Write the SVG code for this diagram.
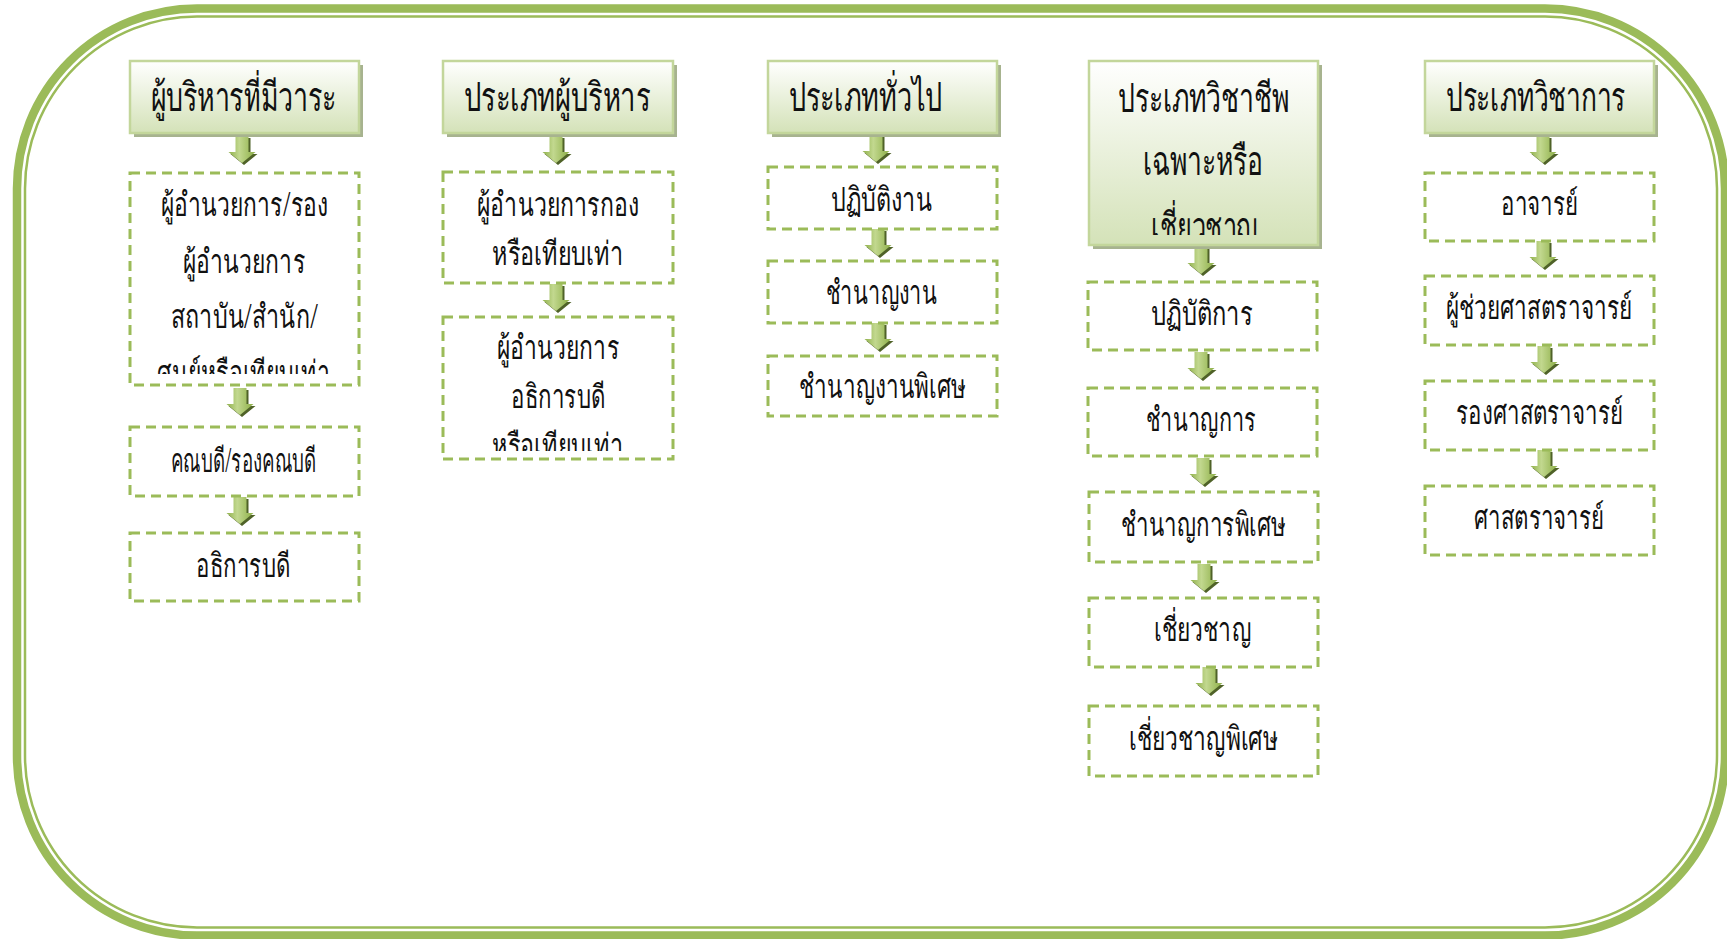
<svg xmlns="http://www.w3.org/2000/svg" xmlns:xlink="http://www.w3.org/1999/xlink" width="1727" height="939" viewBox="0 0 1727 939">
<style>
.frame{fill:none;stroke:#9bbb59}
.shd{fill:#a7b38f}
.hdr{fill:url(#hg);stroke:#c3d69b;stroke-width:2.5}
.box{fill:#ffffff;stroke:#9bbb59;stroke-width:3;stroke-dasharray:10 6}
.t{font-family:"Noto Sans","DejaVu Sans",sans-serif;font-size:33px;font-weight:300;fill:#111111}
.h{font-family:"Noto Sans","DejaVu Sans",sans-serif;font-size:40px;font-weight:300;fill:#111111}
</style>
<defs>
<linearGradient id="hg" x1="0" y1="0" x2="0" y2="1">
<stop offset="0" stop-color="#ffffff"/>
<stop offset="1" stop-color="#d4e2b8"/>
</linearGradient>
<linearGradient id="ag" x1="0" y1="0" x2="1" y2="0">
<stop offset="0" stop-color="#8fb04a"/>
<stop offset="0.4" stop-color="#c2d88f"/>
<stop offset="1" stop-color="#8cae46"/>
</linearGradient>
<g id="arr">
<path d="M-4.5,2 H8.5 V18 H15.5 L2,29 L-11.5,18 H-4.5 Z" fill="#4f6228"/>
<path d="M-6.5,0 H6.5 V16 H13.5 L0,27 L-13.5,16 H-6.5 Z" fill="url(#ag)"/>
</g>
<clipPath id="c1"><rect x="130" y="173" width="229" height="201"/></clipPath>
<clipPath id="c2"><rect x="443" y="317" width="230" height="134"/></clipPath>
<clipPath id="c3"><rect x="1089" y="61" width="229" height="174"/></clipPath>
</defs>
<rect width="1727" height="939" fill="#ffffff"/>
<g id="frame">
<rect class="frame" x="17" y="8.5" width="1708" height="927" rx="180" ry="180" stroke-width="8.5"/>
<rect class="frame" x="25" y="16.5" width="1692" height="911" rx="172" ry="172" stroke-width="2.5"/>
</g>
<g id="connectors">
<use href="#arr" x="242" y="136"/>
<use href="#arr" x="240" y="388"/>
<use href="#arr" x="240" y="497"/>
<use href="#arr" x="556" y="136"/>
<use href="#arr" x="556" y="284"/>
<use href="#arr" x="876" y="135"/>
<use href="#arr" x="878" y="229"/>
<use href="#arr" x="878" y="323"/>
<use href="#arr" x="1201" y="247"/>
<use href="#arr" x="1201" y="352"/>
<use href="#arr" x="1203" y="458"/>
<use href="#arr" x="1204" y="564"/>
<use href="#arr" x="1209" y="667"/>
<use href="#arr" x="1543" y="136"/>
<use href="#arr" x="1543" y="241"/>
<use href="#arr" x="1544" y="346"/>
<use href="#arr" x="1544" y="450"/>
</g>
<g id="h1">
<rect class="shd" x="134" y="65" width="229" height="72"/>
<rect class="hdr" x="130" y="61" width="229" height="72"/>
<text class="h" x="151" y="111" textLength="185" lengthAdjust="spacingAndGlyphs">ผู้บริหารที่มีวาระ</text>
</g>
<g id="n1a">
<rect class="box" x="130" y="173" width="229" height="212"/>
<g clip-path="url(#c1)">
<text class="t" x="161" y="216" textLength="167" lengthAdjust="spacingAndGlyphs">ผู้อำนวยการ/รอง</text>
<text class="t" x="183" y="273" textLength="122" lengthAdjust="spacingAndGlyphs">ผู้อำนวยการ</text>
<text class="t" x="171" y="328" textLength="147" lengthAdjust="spacingAndGlyphs">สถาบัน/สำนัก/</text>
<text class="t" x="157" y="384" textLength="173" lengthAdjust="spacingAndGlyphs">ศูนย์หรือเทียบเท่า</text>
</g>
</g>
<g id="n1b">
<rect class="box" x="130" y="427" width="229" height="69"/>
<text class="t" x="171" y="472" textLength="145" lengthAdjust="spacingAndGlyphs">คณบดี/รองคณบดี</text>
</g>
<g id="n1c">
<rect class="box" x="130" y="533" width="229" height="68"/>
<text class="t" x="196" y="577" textLength="94" lengthAdjust="spacingAndGlyphs">อธิการบดี</text>
</g>
<g id="h2">
<rect class="shd" x="447" y="65" width="230" height="72"/>
<rect class="hdr" x="443" y="61" width="230" height="72"/>
<text class="h" x="464" y="111" textLength="186" lengthAdjust="spacingAndGlyphs">ประเภทผู้บริหาร</text>
</g>
<g id="n2a">
<rect class="box" x="443" y="172" width="230" height="111"/>
<text class="t" x="477" y="216" textLength="162" lengthAdjust="spacingAndGlyphs">ผู้อำนวยการกอง</text>
<text class="t" x="492" y="265" textLength="131" lengthAdjust="spacingAndGlyphs">หรือเทียบเท่า</text>
</g>
<g id="n2b">
<rect class="box" x="443" y="317" width="230" height="142"/>
<g clip-path="url(#c2)">
<text class="t" x="497" y="359" textLength="122" lengthAdjust="spacingAndGlyphs">ผู้อำนวยการ</text>
<text class="t" x="511" y="408" textLength="94" lengthAdjust="spacingAndGlyphs">อธิการบดี</text>
<text class="t" x="492" y="457" textLength="131" lengthAdjust="spacingAndGlyphs">หรือเทียบเท่า</text>
</g>
</g>
<g id="h3">
<rect class="shd" x="772" y="65" width="229" height="72"/>
<rect class="hdr" x="768" y="61" width="229" height="72"/>
<text class="h" x="789" y="111" textLength="153" lengthAdjust="spacingAndGlyphs">ประเภททั่วไป</text>
</g>
<g id="n3a">
<rect class="box" x="768" y="167" width="229" height="62"/>
<text class="t" x="831" y="211" textLength="101" lengthAdjust="spacingAndGlyphs">ปฏิบัติงาน</text>
</g>
<g id="n3b">
<rect class="box" x="768" y="261" width="229" height="62"/>
<text class="t" x="826" y="304" textLength="111" lengthAdjust="spacingAndGlyphs">ชำนาญงาน</text>
</g>
<g id="n3c">
<rect class="box" x="768" y="356" width="229" height="60"/>
<text class="t" x="799" y="398" textLength="167" lengthAdjust="spacingAndGlyphs">ชำนาญงานพิเศษ</text>
</g>
<g id="h4">
<rect class="shd" x="1093" y="65" width="229" height="184"/>
<rect class="hdr" x="1089" y="61" width="229" height="184"/>
<g clip-path="url(#c3)">
<text class="h" x="1118" y="112" textLength="171" lengthAdjust="spacingAndGlyphs">ประเภทวิชาชีพ</text>
<text class="h" x="1143" y="175" textLength="120" lengthAdjust="spacingAndGlyphs">เฉพาะหรือ</text>
<text class="h" x="1151" y="241" textLength="107" lengthAdjust="spacingAndGlyphs">เชี่ยวชาญ</text>
</g>
</g>
<g id="n4a">
<rect class="box" x="1088" y="282" width="229" height="68"/>
<text class="t" x="1151" y="325" textLength="102" lengthAdjust="spacingAndGlyphs">ปฏิบัติการ</text>
</g>
<g id="n4b">
<rect class="box" x="1088" y="388" width="229" height="68"/>
<text class="t" x="1146" y="431" textLength="110" lengthAdjust="spacingAndGlyphs">ชำนาญการ</text>
</g>
<g id="n4c">
<rect class="box" x="1089" y="492" width="229" height="70"/>
<text class="t" x="1121" y="536" textLength="165" lengthAdjust="spacingAndGlyphs">ชำนาญการพิเศษ</text>
</g>
<g id="n4d">
<rect class="box" x="1089" y="598" width="229" height="69"/>
<text class="t" x="1154" y="641" textLength="97" lengthAdjust="spacingAndGlyphs">เชี่ยวชาญ</text>
</g>
<g id="n4e">
<rect class="box" x="1089" y="706" width="229" height="70"/>
<text class="t" x="1129" y="750" textLength="149" lengthAdjust="spacingAndGlyphs">เชี่ยวชาญพิเศษ</text>
</g>
<g id="h5">
<rect class="shd" x="1429" y="65" width="229" height="72"/>
<rect class="hdr" x="1425" y="61" width="229" height="72"/>
<text class="h" x="1446" y="111" textLength="179" lengthAdjust="spacingAndGlyphs">ประเภทวิชาการ</text>
</g>
<g id="n5a">
<rect class="box" x="1425" y="173" width="229" height="68"/>
<text class="t" x="1501" y="215" textLength="77" lengthAdjust="spacingAndGlyphs">อาจารย์</text>
</g>
<g id="n5b">
<rect class="box" x="1425" y="276" width="229" height="69"/>
<text class="t" x="1446" y="319" textLength="186" lengthAdjust="spacingAndGlyphs">ผู้ช่วยศาสตราจารย์</text>
</g>
<g id="n5c">
<rect class="box" x="1425" y="381" width="229" height="69"/>
<text class="t" x="1456" y="424" textLength="167" lengthAdjust="spacingAndGlyphs">รองศาสตราจารย์</text>
</g>
<g id="n5d">
<rect class="box" x="1425" y="486" width="229" height="69"/>
<text class="t" x="1474" y="529" textLength="130" lengthAdjust="spacingAndGlyphs">ศาสตราจารย์</text>
</g>
</svg>
